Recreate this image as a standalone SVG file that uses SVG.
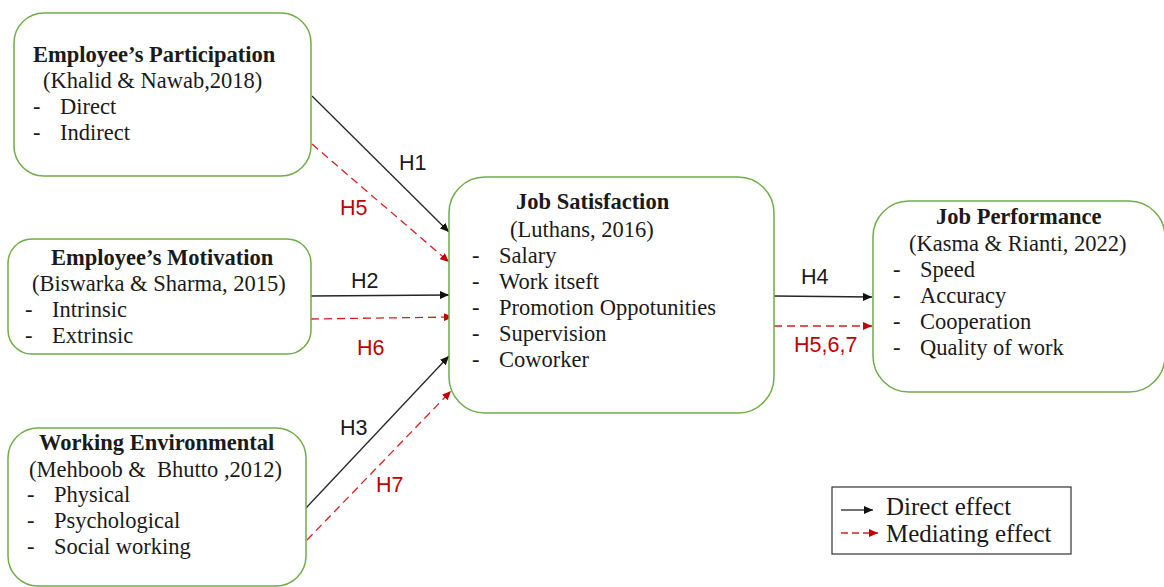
<svg xmlns="http://www.w3.org/2000/svg" width="1164" height="587" viewBox="0 0 1164 587">
  <style>
    .box { fill: #ffffff; stroke: #70ad47; stroke-width: 1.5; }
    .t { font-family: "Liberation Serif", "Times New Roman", serif; font-size: 22.5px; fill: #1a1a1a; }
    .b { font-weight: bold; }
    .h { font-family: "Liberation Sans", Arial, sans-serif; font-size: 21.5px; }
    .hk { fill: #1a1a1a; }
    .hr { fill: #c00000; }
    .direct { stroke: #262626; stroke-width: 1.3; fill: none; marker-end: url(#ahBlack); }
    .mediate { stroke: #d42020; stroke-width: 1.3; fill: none; stroke-dasharray: 8 5; marker-end: url(#ahRed); }
    .lg { font-family: "Liberation Serif", "Times New Roman", serif; font-size: 25px; fill: #1a1a1a; }
  </style>
  <defs>
    <marker id="ahBlack" markerUnits="userSpaceOnUse" markerWidth="10" markerHeight="8" refX="9" refY="4" orient="auto">
      <path d="M0,0 L9,4 L0,8 Z" fill="#111111"/>
    </marker>
    <marker id="ahRed" markerUnits="userSpaceOnUse" markerWidth="10" markerHeight="8" refX="9" refY="4" orient="auto">
      <path d="M0,0 L9,4 L0,8 Z" fill="#c00000"/>
    </marker>
  </defs>

  <rect width="1164" height="587" fill="#ffffff"/>

  <!-- connectors -->
  <g id="connectors">
    <line class="direct" x1="312" y1="96" x2="449" y2="232"/>
    <line class="mediate" x1="312" y1="144" x2="449" y2="262"/>
    <line class="direct" x1="311" y1="296" x2="449" y2="295"/>
    <line class="mediate" x1="311" y1="319" x2="453" y2="317"/>
    <line class="direct" x1="306" y1="508" x2="449" y2="356"/>
    <line class="mediate" x1="307" y1="540" x2="451" y2="391"/>
    <line class="direct" x1="774" y1="296" x2="872" y2="297"/>
    <line class="mediate" x1="774" y1="326" x2="872" y2="326"/>

    <text class="h hk" x="399" y="170">H1</text>
    <text class="h hr" x="340" y="215">H5</text>
    <text class="h hk" x="351" y="288">H2</text>
    <text class="h hr" x="357" y="355">H6</text>
    <text class="h hk" x="340" y="435">H3</text>
    <text class="h hr" x="376" y="492">H7</text>
    <text class="h hk" x="801" y="284">H4</text>
    <text class="h hr" x="794" y="352">H5,6,7</text>
  </g>

  <!-- Employee's Participation -->
  <g id="participation">
    <rect class="box" x="14" y="13" width="297" height="163" rx="30"/>
    <text class="t b" x="33" y="62">Employee’s Participation</text>
    <text class="t" x="43" y="88">(Khalid &amp; Nawab,2018)</text>
    <text class="t" x="33" y="114">-</text><text class="t" x="60" y="114">Direct</text>
    <text class="t" x="33" y="140">-</text><text class="t" x="60" y="140">Indirect</text>
  </g>

  <!-- Employee's Motivation -->
  <g id="motivation">
    <rect class="box" x="8" y="239" width="303" height="115" rx="24"/>
    <text class="t b" x="51" y="265">Employee’s Motivation</text>
    <text class="t" x="32" y="291">(Biswarka &amp; Sharma, 2015)</text>
    <text class="t" x="25" y="317">-</text><text class="t" x="52" y="317">Intrinsic</text>
    <text class="t" x="25" y="343">-</text><text class="t" x="52" y="343">Extrinsic</text>
  </g>

  <!-- Working Environmental -->
  <g id="environment">
    <rect class="box" x="8" y="428" width="298" height="158" rx="30"/>
    <text class="t b" x="39" y="450">Working Environmental</text>
    <text class="t" x="29" y="477" xml:space="preserve">(Mehboob &amp;  Bhutto ,2012)</text>
    <text class="t" x="27" y="502">-</text><text class="t" x="54" y="502">Physical</text>
    <text class="t" x="27" y="528">-</text><text class="t" x="54" y="528">Psychological</text>
    <text class="t" x="27" y="554">-</text><text class="t" x="54" y="554">Social working</text>
  </g>

  <!-- Job Satisfaction -->
  <g id="satisfaction">
    <rect class="box" x="449" y="177" width="325" height="236" rx="36"/>
    <text class="t b" x="516" y="209">Job Satisfaction</text>
    <text class="t" x="510" y="237">(Luthans, 2016)</text>
    <text class="t" x="472" y="263">-</text><text class="t" x="499" y="263">Salary</text>
    <text class="t" x="472" y="289">-</text><text class="t" x="499" y="289">Work itseft</text>
    <text class="t" x="472" y="315">-</text><text class="t" x="499" y="315">Promotion Oppotunities</text>
    <text class="t" x="472" y="341">-</text><text class="t" x="499" y="341">Supervision</text>
    <text class="t" x="472" y="367">-</text><text class="t" x="499" y="367">Coworker</text>
  </g>

  <!-- Job Performance -->
  <g id="performance">
    <rect class="box" x="873" y="201" width="292" height="191" rx="36"/>
    <text class="t b" x="936" y="224">Job Performance</text>
    <text class="t" x="909" y="251">(Kasma &amp; Rianti, 2022)</text>
    <text class="t" x="893" y="277">-</text><text class="t" x="920" y="277">Speed</text>
    <text class="t" x="893" y="303">-</text><text class="t" x="920" y="303">Accuracy</text>
    <text class="t" x="893" y="329">-</text><text class="t" x="920" y="329">Cooperation</text>
    <text class="t" x="893" y="355">-</text><text class="t" x="920" y="355">Quality of work</text>
  </g>

  <!-- Legend -->
  <g id="legend">
    <rect x="832" y="487" width="239" height="67" fill="#ffffff" stroke="#333333" stroke-width="1.2"/>
    <line x1="841" y1="510" x2="873" y2="510" stroke="#262626" stroke-width="1.3" marker-end="url(#ahBlack)"/>
    <text class="lg" x="886" y="515">Direct effect</text>
    <line x1="841" y1="533" x2="878" y2="533" stroke="#d42020" stroke-width="1.3" stroke-dasharray="7 4" marker-end="url(#ahRed)"/>
    <text class="lg" x="886" y="542">Mediating effect</text>
  </g>
</svg>
